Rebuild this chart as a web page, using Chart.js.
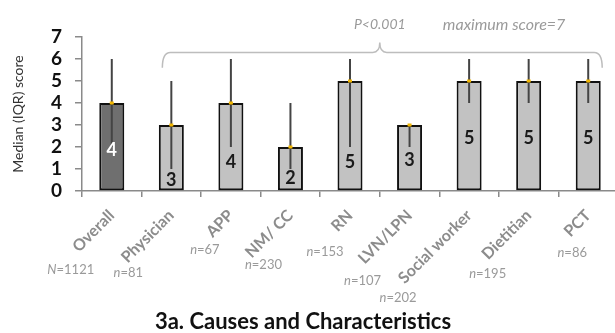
<!DOCTYPE html>
<html>
<head>
<meta charset="utf-8">
<script src="https://cdn.jsdelivr.net/npm/chart.js@4.4.0/dist/chart.umd.min.js"></script>
<style>
  html, body { margin: 0; padding: 0; background: #fff; overflow: hidden; }
  #wrap { width: 620px; height: 333px; }
</style>
</head>
<body>
<div id="wrap"><canvas id="chart" width="620" height="333"></canvas></div>
<script>
// data
const groups = ["Overall", "Physician", "APP", "NM/ CC", "RN", "LVN/LPN", "Social worker", "Dietitian", "PCT"];
const medians = [4, 3, 4, 2, 5, 3, 5, 5, 5];
const q1 = [2, 1, 2, 1, 2, 2, 4, 4, 4];
const q3 = [6, 5, 6, 4, 6, 3, 6, 6, 6];
const counts = [1121, 81, 67, 230, 153, 107, 202, 195, 86];
const yTicks = [0, 1, 2, 3, 4, 5, 6, 7];

// layout only: where the value label sits inside each bar (y units),
// and where each n= label sits relative to the category
const labelAt = [1.86, 0.5, 1.3, 0.6, 1.3, 1.4, 2.4, 2.4, 2.4];
const nDx = [-41, -43, -26, -27, -25, -47, -71, -41, -16];
const nY = [270, 273, 250, 265, 252, 281, 298, 274, 253];

const FONT = "Lato, 'Open Sans', sans-serif";
const barColors = groups.map((g, i) => i === 0 ? "#6f6f6f" : "#c2c2c2");

const extras = {
  id: "extras",
  afterDatasetsDraw(chart) {
    const ctx = chart.ctx;
    const x = chart.scales.x, y = chart.scales.y;
    ctx.save();
    medians.forEach((m, i) => {
      const cx = x.getPixelForValue(i);
      // IQR whisker
      ctx.strokeStyle = "#444";
      ctx.lineWidth = 2;
      ctx.beginPath();
      ctx.moveTo(cx, y.getPixelForValue(q1[i]));
      ctx.lineTo(cx, y.getPixelForValue(q3[i]));
      ctx.stroke();
      // median marker
      ctx.fillStyle = "#f2b600";
      ctx.fillRect(cx - 2, y.getPixelForValue(m) - 1.5, 4, 3);
      // value inside bar
      ctx.fillStyle = i === 0 ? "#fff" : "#1a1a1a";
      ctx.font = "bold 18px " + FONT;
      ctx.textAlign = "center";
      ctx.textBaseline = "middle";
      ctx.fillText(String(m), cx, y.getPixelForValue(labelAt[i]));
    });
    ctx.restore();
  },
  afterDraw(chart) {
    const ctx = chart.ctx;
    const x = chart.scales.x, y = chart.scales.y;
    ctx.save();

    // brace over the professional groups
    const xl = x.getPixelForValue(1) - 9;
    const xr = x.getPixelForValue(8) + 14;
    const xm = (x.getPixelForValue(4) + x.getPixelForValue(5)) / 2;
    const yLine = y.getPixelForValue(6.3);
    const yEnd = y.getPixelForValue(5.6);
    const yTip = y.getPixelForValue(6.75);
    ctx.strokeStyle = "#bdbdbd";
    ctx.lineWidth = 1.5;
    ctx.beginPath();
    ctx.moveTo(xl, yEnd);
    ctx.quadraticCurveTo(xl, yLine, xl + 8, yLine);
    ctx.lineTo(xm - 7, yLine);
    ctx.quadraticCurveTo(xm, yLine, xm, yTip);
    ctx.quadraticCurveTo(xm, yLine, xm + 7, yLine);
    ctx.lineTo(xr - 8, yLine);
    ctx.quadraticCurveTo(xr, yLine, xr, yEnd);
    ctx.stroke();

    ctx.fillStyle = "#9a9a9a";
    ctx.textAlign = "center";
    ctx.textBaseline = "middle";
    ctx.font = "italic 14px " + FONT;
    ctx.fillText("P<0.001", xm, y.getPixelForValue(7.55));
    ctx.font = "italic 16px " + FONT;
    ctx.fillText("maximum score=7", x.getPixelForValue(6) + 35, y.getPixelForValue(7.55));

    // n= labels
    ctx.fillStyle = "#9a9a9a";
    ctx.textBaseline = "middle";
    counts.forEach((n, i) => {
      const letter = i === 0 ? "N" : "n";
      const rest = "=" + n;
      ctx.font = "italic 13px " + FONT;
      const w1 = ctx.measureText(letter).width;
      ctx.font = "13px " + FONT;
      const w2 = ctx.measureText(rest).width;
      const start = x.getPixelForValue(i) + nDx[i] - (w1 + w2) / 2;
      ctx.textAlign = "left";
      ctx.font = "italic 13px " + FONT;
      ctx.fillText(letter, start, nY[i]);
      ctx.font = "13px " + FONT;
      ctx.fillText(rest, start + w1, nY[i]);
    });

    // title
    ctx.fillStyle = "#111";
    ctx.font = "bold 22px " + FONT;
    ctx.textAlign = "center";
    ctx.fillText("3a. Causes and Characteristics", 303, 322);
    ctx.restore();
  }
};

const ctx = document.getElementById("chart").getContext("2d");
new Chart(ctx, {
  type: "bar",
  data: {
    labels: groups,
    datasets: [{
      data: medians,
      backgroundColor: barColors,
      borderColor: "#111",
      borderWidth: 2,
      borderSkipped: false,
      barPercentage: 0.42,
      categoryPercentage: 1
    }]
  },
  options: {
    responsive: false,
    animation: false,
    devicePixelRatio: 1,
    layout: { padding: { top: 37, right: 2, left: 0, bottom: 0 } },
    plugins: { legend: { display: false }, tooltip: { enabled: false } },
    scales: {
      x: {
        grid: { offset: true, drawOnChartArea: false, tickLength: 6, color: "#8a8a8a", lineWidth: 1.5 },
        border: { color: "#8a8a8a", width: 1.5 },
        ticks: {
          maxRotation: 45, minRotation: 45, padding: 9,
          color: "#8c8c8c", font: { family: FONT, size: 16, weight: "bold" }
        },
        afterFit(scale) { scale.height = 142; }
      },
      y: {
        min: 0, max: 7,
        grid: { drawOnChartArea: false, tickLength: 7, color: "#8a8a8a", lineWidth: 1.5 },
        border: { color: "#8a8a8a", width: 1.5 },
        afterBuildTicks(scale) { scale.ticks = yTicks.map(v => ({ value: v })); },
        ticks: { autoSkip: false, padding: 13, color: "#111", font: { family: FONT, size: 19, weight: "bold" } },
        title: {
          display: true, text: "Median (IQR) score", color: "#333",
          font: { family: FONT, size: 14 }, padding: { top: 10, bottom: 0 }
        },
        afterFit(scale) { scale.width = 82; }
      }
    }
  },
  plugins: [extras]
});
</script>
</body>
</html>
